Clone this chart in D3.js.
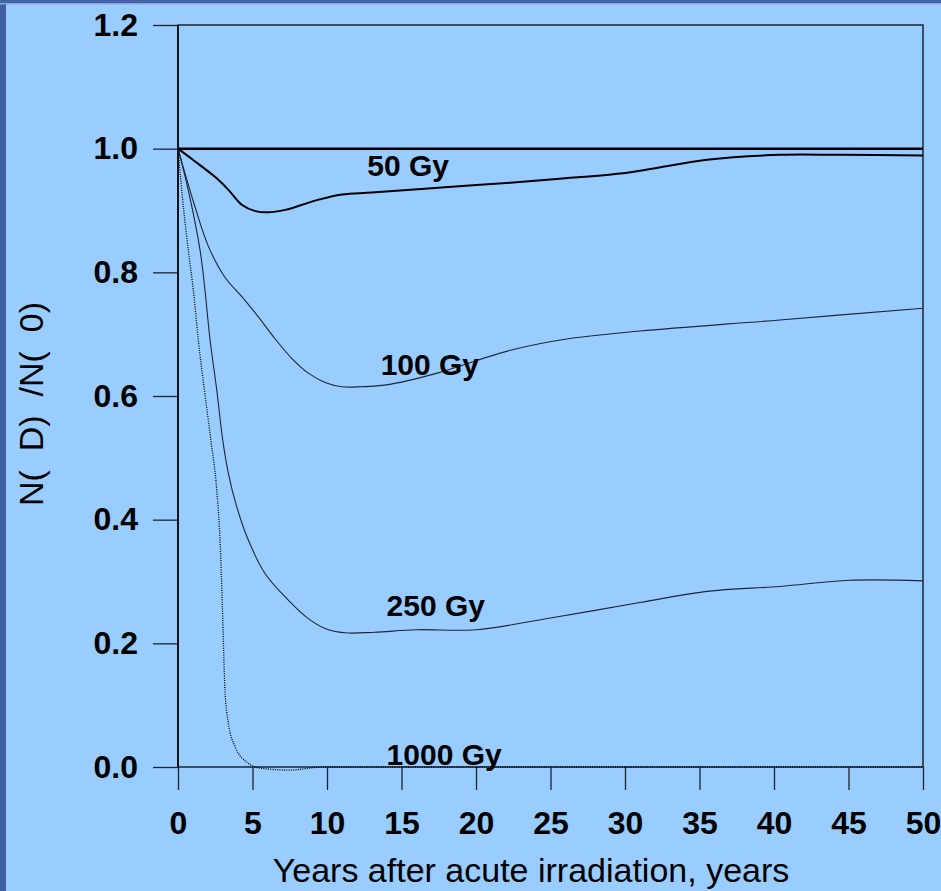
<!DOCTYPE html>
<html lang="en">
<head>
  <meta charset="UTF-8">
  <title>N(D)/N(0)</title>
  <script src="https://d3js.org/d3.v7.min.js"></script>
  <style>
    * { margin: 0; padding: 0; box-sizing: border-box; }
    body { background: #99ccff; font-family: "Liberation Sans", Arial, sans-serif; }
  </style>
</head>
<body>
  <div id="chart"></div>
  <script>
    // values
    const ctrlYears = [0, 50];
    const ctrlValues = [1.0, 1.0];

    const years50 = [0, 1, 2.5, 3.4, 4.3, 5.2, 6.0, 7.2, 9.2, 11, 13, 17, 22.3, 26, 29.7, 31.7, 35.5, 40.4, 44.4, 50];
    const values50 = [1.0, 0.982, 0.954, 0.933, 0.909, 0.899, 0.897, 0.901, 0.916, 0.926, 0.929, 0.936, 0.945, 0.952, 0.960, 0.967, 0.982, 0.990, 0.990, 0.989];

    const years100 = [0, 0.47, 1.14, 2.04, 3.15, 4.27, 5.39, 6.5, 7.63, 8.75, 9.87, 11, 12.3, 14, 17.4, 22.3, 26.3, 31, 40.4, 50];
    const values100 = [1.0, 0.96, 0.906, 0.842, 0.792, 0.761, 0.728, 0.693, 0.661, 0.637, 0.622, 0.615, 0.615, 0.618, 0.637, 0.674, 0.693, 0.705, 0.723, 0.742];

    const years250 = [0, 0.69, 1.48, 1.81, 2.15, 2.6, 3.0, 3.38, 3.94, 4.72, 5.84, 7.4, 8.75, 9.87, 11.2, 13.2, 16, 20, 25, 31, 35.5, 40.4, 45.1, 50];
    const values250 = [1.0, 0.933, 0.836, 0.771, 0.691, 0.610, 0.529, 0.475, 0.421, 0.367, 0.313, 0.270, 0.240, 0.224, 0.217, 0.218, 0.222, 0.222, 0.241, 0.266, 0.284, 0.292, 0.302, 0.301];

    const years1000 = [0, 0.36, 0.69, 1.03, 1.36, 1.77, 2.2, 2.6, 2.82, 2.98, 3.15, 3.38, 3.83, 4.72, 5.6, 7.5, 9.7, 15, 50];
    const values1000 = [1.0, 0.906, 0.836, 0.771, 0.691, 0.610, 0.529, 0.448, 0.367, 0.259, 0.125, 0.071, 0.033, 0.006, -0.002, -0.005, 0.0, 0.0, 0.0];

    const xTicks = [0, 5, 10, 15, 20, 25, 30, 35, 40, 45, 50];
    const yTicks = [0, 0.2, 0.4, 0.6, 0.8, 1.0, 1.2];

    const seriesNames = ["ctrl", "50 Gy", "100 Gy", "250 Gy", "1000 Gy"];
    const labelAt = [null, [12.7, 0.955], [13.6, 0.634], [14.0, 0.244], [14.0, 0.003]];

    const series = [
      {name: seriesNames[0], years: ctrlYears, values: ctrlValues, width: 2.5, dash: null},
      {name: seriesNames[1], years: years50, values: values50, width: 2, dash: null},
      {name: seriesNames[2], years: years100, values: values100, width: 1.1, dash: null},
      {name: seriesNames[3], years: years250, values: values250, width: 1.1, dash: null},
      {name: seriesNames[4], years: years1000, values: values1000, width: 1.3, dash: "1,1.3"}
    ];

    const W = 941, H = 891;
    const margin = {top: 25, right: 18, bottom: 124, left: 178},
          width = W - margin.left - margin.right,
          height = H - margin.top - margin.bottom;

    const root = d3.select("#chart").append("svg")
      .attr("width", W)
      .attr("height", H);

    // slide background and border strips
    root.append("rect").attr("width", W).attr("height", H).attr("fill", "#99ccff");
    root.append("rect").attr("width", 6).attr("height", H).attr("fill", "#3f5ea3");
    root.append("rect").attr("width", W).attr("height", 3).attr("fill", "#4462a6");
    root.append("rect").attr("y", 3).attr("width", W).attr("height", 1.5).attr("fill", "#8ea4d4");

    const svg = root.append("g")
      .attr("transform", `translate(${margin.left},${margin.top})`);

    const x = d3.scaleLinear().domain([0, 50]).range([0, width]);
    const y = d3.scaleLinear().domain([0, 1.2]).range([height, 0]);

    // y axis
    svg.append("g")
      .call(d3.axisLeft(y)
              .tickValues(yTicks)
              .tickSize(25)
              .tickSizeOuter(0)
              .tickPadding(15)
              .tickFormat(d3.format(".1f")))
      .call(g => g.select(".domain").remove())
      .call(g => g.selectAll("line").attr("stroke", "#1c2430").attr("stroke-width", 1.3))
      .call(g => g.selectAll("text")
              .attr("fill", "#000")
              .style("font-family", "'Liberation Sans', Arial, sans-serif")
              .style("font-size", "32px")
              .style("font-weight", "bold"));

    // x axis
    svg.append("g")
      .attr("transform", `translate(0,${height})`)
      .call(d3.axisBottom(x)
              .tickValues(xTicks)
              .tickSize(23)
              .tickSizeOuter(0)
              .tickPadding(21)
              .tickFormat(d3.format("d")))
      .call(g => g.select(".domain").remove())
      .call(g => g.selectAll("line").attr("stroke", "#1c2430").attr("stroke-width", 1.3))
      .call(g => g.selectAll("text")
              .attr("fill", "#000")
              .style("font-family", "'Liberation Sans', Arial, sans-serif")
              .style("font-size", "32px")
              .style("font-weight", "bold"));

    // frame
    svg.append("rect")
      .attr("width", width)
      .attr("height", height)
      .attr("fill", "none")
      .attr("stroke", "#1c2430")
      .attr("stroke-width", 1.5);
    svg.append("line")
      .attr("x1", 0).attr("x2", 0).attr("y1", 0).attr("y2", height)
      .attr("stroke", "#000").attr("stroke-width", 1.5);

    // curves
    const smooth = d3.line()
      .x(d => x(d[0]))
      .y(d => y(d[1]))
      .curve(d3.curveCatmullRom.alpha(0.5));
    const steep = d3.line()
      .x(d => x(d[0]))
      .y(d => y(d[1]))
      .curve(d3.curveMonotoneX);

    svg.selectAll(".curve")
      .data(series)
      .enter()
      .append("path")
      .attr("class", "curve")
      .attr("fill", "none")
      .attr("stroke", d => d.width > 1.5 || d.dash ? "#000" : "#1e2633")
      .attr("stroke-width", d => d.width)
      .attr("stroke-dasharray", d => d.dash)
      .attr("d", d => (d.dash ? steep : smooth)(d.years.map((t, i) => [t, d.values[i]])));

    // labels
    svg.selectAll(".lbl")
      .data(series.filter((d, i) => labelAt[i]))
      .enter()
      .append("text")
      .attr("class", "lbl")
      .attr("x", (d, i) => x(labelAt[i + 1][0]))
      .attr("y", (d, i) => y(labelAt[i + 1][1]))
      .style("font-size", "30px")
      .style("font-weight", "bold")
      .text(d => d.name);

    // axis titles
    root.append("text")
      .attr("x", 531)
      .attr("y", 882)
      .attr("text-anchor", "middle")
      .style("font-size", "34px")
      .text("Years after acute irradiation, years");

    root.append("text")
      .attr("transform", "translate(43,404) rotate(-90)")
      .attr("text-anchor", "middle")
      .style("font-size", "34px")
      .attr("xml:space", "preserve")
      .text("N(  D)  /N(  0)");
  </script>
</body>
</html>
